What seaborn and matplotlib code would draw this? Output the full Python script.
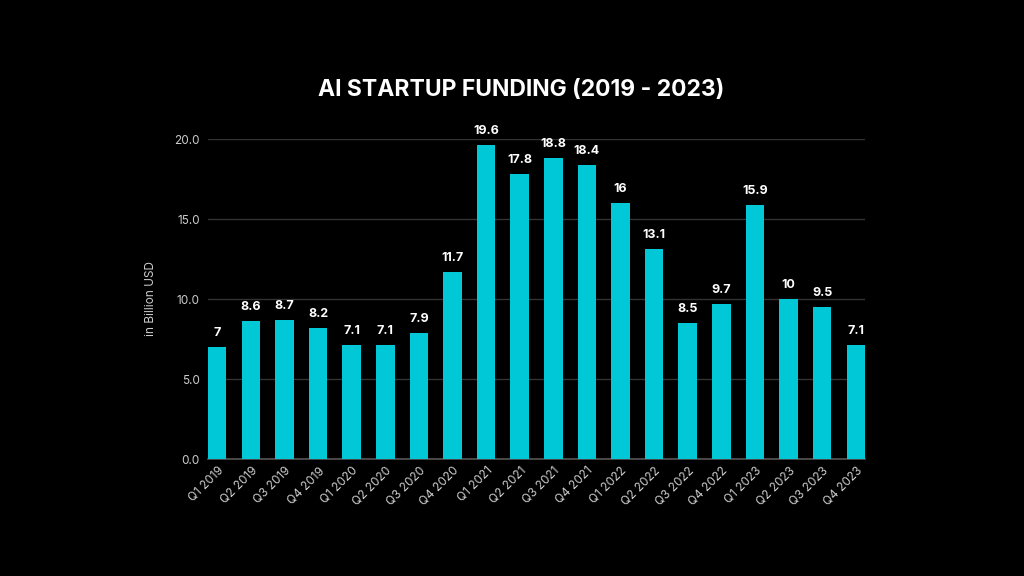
import matplotlib
matplotlib.use("Agg")
import matplotlib.pyplot as plt
import seaborn as sns
import pandas as pd

# Data
quarters = ["Q1 2019", "Q2 2019", "Q3 2019", "Q4 2019",
            "Q1 2020", "Q2 2020", "Q3 2020", "Q4 2020",
            "Q1 2021", "Q2 2021", "Q3 2021", "Q4 2021",
            "Q1 2022", "Q2 2022", "Q3 2022", "Q4 2022",
            "Q1 2023", "Q2 2023", "Q3 2023", "Q4 2023"]
funding = [7, 8.6, 8.7, 8.2,
           7.1, 7.1, 7.9, 11.7,
           19.6, 17.8, 18.8, 18.4,
           16, 13.1, 8.5, 9.7,
           15.9, 10, 9.5, 7.1]
value_labels = ["7", "8.6", "8.7", "8.2", "7.1", "7.1", "7.9", "11.7",
                "19.6", "17.8", "18.8", "18.4", "16", "13.1", "8.5", "9.7",
                "15.9", "10", "9.5", "7.1"]
y_ticks = [0, 5, 10, 15, 20]

df = pd.DataFrame({"Quarter": quarters, "Funding": funding})

sns.set_style("dark")
plt.rcParams["font.family"] = ["Inter", "DejaVu Sans"]

fig = plt.figure(figsize=(10.24, 5.76), dpi=100, facecolor="black")
ax = fig.add_axes([208 / 1024, 1 - 459 / 576, (865 - 208) / 1024, (459 - 139) / 576])
ax.set_facecolor("black")

sns.barplot(data=df, x="Quarter", y="Funding", color="#00C8D7",
            width=0.55, saturation=1, linewidth=0, edgecolor="none",
            ax=ax, zorder=3)

for i, (v, lab) in enumerate(zip(funding, value_labels)):
    ax.text(i, v + 0.5, lab, ha="center", va="bottom", color="white",
            fontsize=9, fontweight="bold", clip_on=False)

ax.set_xlim(-0.275, 19.275)
ax.set_ylim(0, 20)
ax.set_yticks(y_ticks)
ax.set_yticklabels([f"{t:.1f}" for t in y_ticks])
ax.grid(axis="y", color="#333333", linewidth=1, zorder=0)
ax.grid(axis="x", visible=False)
for s in ["top", "right", "left"]:
    ax.spines[s].set_visible(False)
ax.spines["bottom"].set_color("#555555")
ax.spines["bottom"].set_linewidth(1.2)

ax.tick_params(axis="y", colors="#cccccc", labelsize=8.5, length=0, pad=6)
ax.tick_params(axis="x", colors="#cccccc", labelsize=8.5, length=0, pad=4)
plt.setp(ax.get_xticklabels(), rotation=45, ha="right", rotation_mode="anchor")

ax.set_xlabel("")
ax.set_ylabel("in Billion USD", color="#cccccc", fontsize=8.5, labelpad=12)

fig.text(521 / 1024, 1 - 90 / 576, "AI STARTUP FUNDING (2019 - 2023)", ha="center",
         va="center", color="white", fontsize=16.5, fontweight="bold")

fig.savefig("out.png", dpi=100, facecolor="black")
